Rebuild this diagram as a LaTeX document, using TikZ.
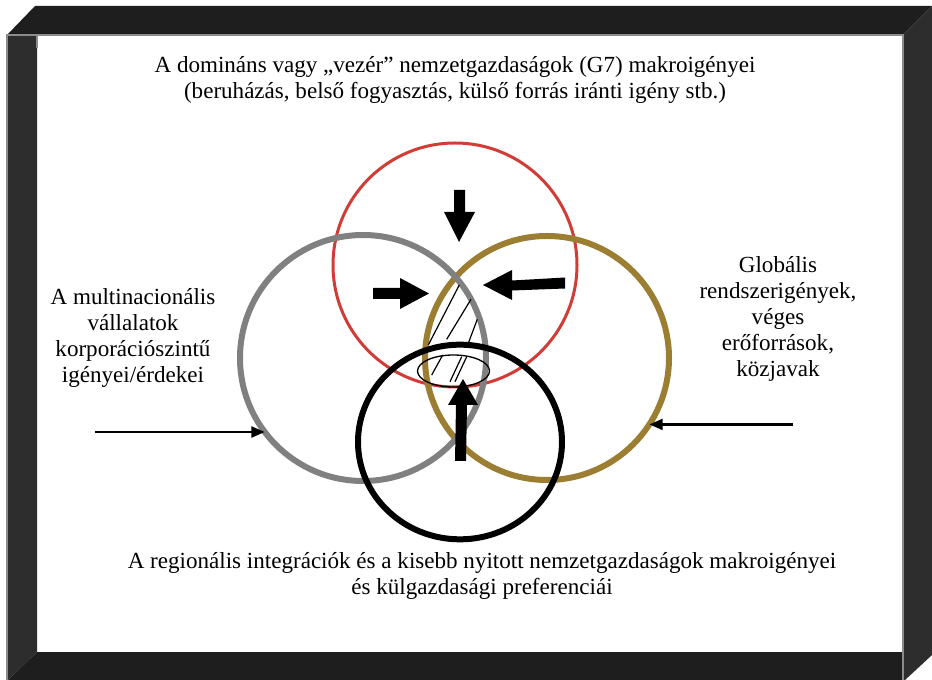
\documentclass[tikz,border=0pt]{standalone}
\usepackage{fontspec}
\setmainfont{Liberation Serif}
\usetikzlibrary{shapes.geometric,arrows.meta}
\definecolor{barA}{HTML}{1E1E1E}
\definecolor{barB}{HTML}{2D2D2D}
\definecolor{edgegray}{HTML}{8C8C8C}
\definecolor{ringred}{HTML}{D23C37}
\definecolor{ringgold}{HTML}{9B7E32}
\definecolor{ringgray}{HTML}{808080}
\begin{document}
\begin{tikzpicture}[x=0.75pt,y=-0.75pt,
  lbl/.style={font=\fontsize{17.3}{19.5}\selectfont, align=center, inner sep=0pt},
  ring/.style={circle, draw, inner sep=0pt, outer sep=0pt, minimum size=#1},
  blockarrow/.style={fill=black},
  hatch/.style={line width=0.9pt},
  thinarrow/.style={line width=2.2pt, -{Triangle[length=10pt,width=8pt]}}
]
\useasboundingbox (0,0) rectangle (932,680);
\fill[white] (0,0) rectangle (932,680);
% frame
\fill[barA] (7,35) -- (35,6) -- (932,6) -- (903,35) -- cycle;
\fill[barB] (7,35) -- (37,35) -- (37,652) -- (8,680) -- (7,680) -- cycle;
\fill[barA] (37,652) -- (903,652) -- (905,680) -- (8,680) -- cycle;
\fill[barB] (903,35) -- (932,6) -- (932,655) -- (905,680) -- (903,680) -- cycle;
\draw[edgegray, line width=1.2pt] (7,680) -- (7,35) -- (903,35) -- (903,680);
\draw[edgegray, line width=0.8pt] (37,35) -- (37,48);

% rings
\node[ring=183pt, draw=ringred, line width=2.25pt] (red) at (455,265) {};
\node[ring=183pt, draw=ringgold, line width=4.5pt] (gold) at (547,358) {};
\node[ring=184.5pt, draw=ringgray, line width=4.5pt] (gray) at (363,358) {};
\node[ellipse, draw=black, line width=4.5pt, inner sep=0pt, outer sep=0pt,
      minimum width=153pt, minimum height=146pt] (black) at (460,442) {};

% hatching and small ellipse
\draw[hatch] (428.3,345) -- (459.3,285);
\draw[hatch] (446.7,339.3) -- (471,299.3);
\draw[hatch] (468.3,343.3) -- (477.3,319.3);
\draw[hatch] (431.7,375) -- (442.7,355);
\draw[hatch] (450,381.7) -- (461.7,356.7);
\draw[hatch] (455,381.7) -- (466.7,356.7);
\node[ellipse, draw=black, line width=1pt, inner sep=0pt,
      minimum width=54pt, minimum height=24pt] (core) at (453.5,371) {};

% block arrows
\fill[blockarrow] (454,190) -- (465,190) -- (465,212) -- (475,212) -- (459,242)
  -- (444,212) -- (454,212) -- cycle;
\fill[blockarrow] (373,288) -- (400,288) -- (400,278) -- (429,293.5) -- (400,309)
  -- (400,299) -- (373,299) -- cycle;
\fill[blockarrow] (565,277.5) -- (565,288.5) -- (512,290.5) -- (512,300) -- (483,285)
  -- (512,270) -- (512,280.5) -- cycle;
\fill[blockarrow] (455,461) -- (466,461) -- (467,405) -- (478,405) -- (463,379)
  -- (448,405) -- (456,405) -- cycle;

% thin arrows
\coordinate (lstart) at (95,430);
\coordinate (rstart) at (793,428);
\draw[thinarrow] (lstart |- gray.217) -- (gray.217);
\draw[thinarrow] (rstart |- gold.-33) -- (gold.-33);

% texts
\node[lbl] (top) at (455,80) {A domináns vagy „vezér” nemzetgazdaságok (G7) makroigényei\\(beruházás, belső fogyasztás, külső forrás iránti igény stb.)};
\node[lbl] (left) at (133,338) {A multinacionális\\vállalatok\\korporációszintű\\igényei/érdekei};
\node[lbl] (right) at (778,318.5) {Globális\\rendszerigények,\\véges\\erőforrások,\\közjavak};
\node[lbl] (bottom) at (482,576) {A regionális integrációk és a kisebb nyitott nemzetgazdaságok makroigényei\\és külgazdasági preferenciái};
\end{tikzpicture}
\end{document}
